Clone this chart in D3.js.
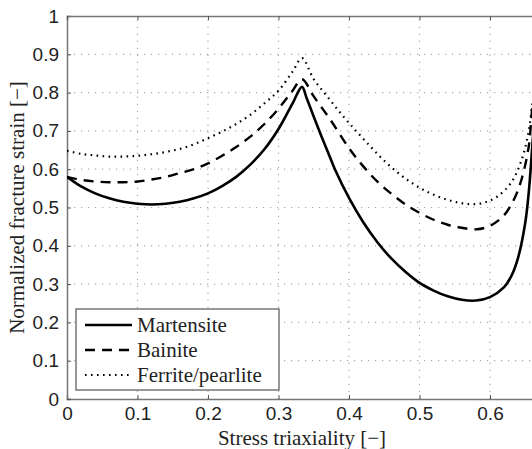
<!DOCTYPE html>
<html>
<head>
<meta charset="utf-8">
<script src="https://cdn.jsdelivr.net/npm/d3@7"></script>
<style>
body { margin: 0; background: #fff; }
svg { display: block; }
</style>
</head>
<body>
<svg id="chart"></svg>
<script>
// data
var martX = [0, 0.02, 0.04, 0.06, 0.08, 0.10, 0.12, 0.14, 0.16, 0.18, 0.20, 0.22, 0.24, 0.26, 0.28, 0.30, 0.32, 0.3333,
	0.34, 0.35, 0.36, 0.37, 0.38, 0.40, 0.42, 0.44, 0.46, 0.48, 0.50, 0.52, 0.54, 0.56, 0.58, 0.60, 0.62, 0.63, 0.64, 0.65, 0.655, 0.66, 0.6667];
var martY = [0.58, 0.555, 0.537, 0.524, 0.515, 0.510, 0.508, 0.510, 0.515, 0.524, 0.537, 0.556, 0.580, 0.612, 0.652, 0.705, 0.772, 0.815,
	0.785, 0.737, 0.69, 0.645, 0.60, 0.525, 0.462, 0.41, 0.367, 0.332, 0.303, 0.283, 0.268, 0.259, 0.257, 0.266, 0.292, 0.32, 0.37, 0.46, 0.54, 0.66, 0.83];

var bainX = [0, 0.02, 0.04, 0.06, 0.08, 0.10, 0.12, 0.14, 0.16, 0.18, 0.20, 0.22, 0.24, 0.26, 0.28, 0.30, 0.32, 0.3333,
	0.35, 0.374, 0.40, 0.42, 0.44, 0.46, 0.48, 0.50, 0.52, 0.54, 0.56, 0.58, 0.60, 0.62, 0.635, 0.645, 0.655, 0.66, 0.6667];
var bainY = [0.58, 0.572, 0.568, 0.566, 0.566, 0.568, 0.573, 0.58, 0.59, 0.60, 0.615, 0.635, 0.658, 0.685, 0.718, 0.758, 0.805, 0.835,
	0.79, 0.728, 0.655, 0.608, 0.568, 0.536, 0.508, 0.486, 0.468, 0.455, 0.447, 0.443, 0.452, 0.480, 0.525, 0.575, 0.66, 0.76, 0.84];

var ferrX = [0, 0.02, 0.04, 0.06, 0.08, 0.10, 0.12, 0.14, 0.16, 0.18, 0.20, 0.22, 0.24, 0.26, 0.28, 0.30, 0.32, 0.3333,
	0.35, 0.37, 0.39, 0.41, 0.43, 0.45, 0.47, 0.49, 0.51, 0.53, 0.55, 0.57, 0.59, 0.61, 0.63, 0.645, 0.655, 0.66, 0.6667];
var ferrY = [0.648, 0.640, 0.636, 0.633, 0.633, 0.635, 0.639, 0.645, 0.653, 0.665, 0.681, 0.698, 0.718, 0.742, 0.772, 0.805, 0.855, 0.89,
	0.835, 0.788, 0.742, 0.700, 0.660, 0.622, 0.590, 0.563, 0.542, 0.526, 0.515, 0.509, 0.512, 0.528, 0.565, 0.625, 0.70, 0.77, 0.85];

var seriesNames = ["Martensite", "Bainite", "Ferrite/pearlite"];
var xTicks = [0, 0.1, 0.2, 0.3, 0.4, 0.5, 0.6];
var yTicks = [0, 0.1, 0.2, 0.3, 0.4, 0.5, 0.6, 0.7, 0.8, 0.9, 1];

var width = 532, height = 449;
var margin = { left: 67, top: 16 };
var plotW = 470, plotH = 383;

var svg = d3.select("#chart")
	.attr("width", width)
	.attr("height", height);

var xScale = d3.scaleLinear()
	.domain([0, 2 / 3])
	.range([margin.left, margin.left + plotW]);
var yScale = d3.scaleLinear()
	.domain([0, 1])
	.range([margin.top + plotH, margin.top]);

// grid
svg.append("g")
	.selectAll("line")
	.data(yTicks.slice(1, -1))
	.enter()
	.append("line")
	.attr("x1", xScale(0))
	.attr("x2", xScale(2 / 3))
	.attr("y1", function (d) { return yScale(d); })
	.attr("y2", function (d) { return yScale(d); })
	.attr("stroke", "#aaa")
	.attr("stroke-width", 1.2)
	.attr("stroke-dasharray", "1.2,5.8");
svg.append("g")
	.selectAll("line")
	.data(xTicks.slice(1))
	.enter()
	.append("line")
	.attr("x1", function (d) { return xScale(d); })
	.attr("x2", function (d) { return xScale(d); })
	.attr("y1", yScale(0))
	.attr("y2", yScale(1))
	.attr("stroke", "#aaa")
	.attr("stroke-width", 1.2)
	.attr("stroke-dasharray", "1.2,5.8");

// axes, ticks point inward
var xAxis = d3.axisBottom(xScale)
	.tickValues(xTicks)
	.tickFormat(d3.format(""))
	.tickSize(-4)
	.tickPadding(8);
var yAxis = d3.axisLeft(yScale)
	.tickValues(yTicks)
	.tickFormat(d3.format(""))
	.tickSize(-4)
	.tickPadding(8);
var xTop = d3.axisTop(xScale)
	.tickValues(xTicks)
	.tickFormat("")
	.tickSize(-4);

svg.append("g")
	.attr("class", "axis")
	.attr("transform", "translate(0," + yScale(0) + ")")
	.call(xAxis);
svg.append("g")
	.attr("class", "axis")
	.attr("transform", "translate(" + xScale(0) + ",0)")
	.call(yAxis);
svg.append("g")
	.attr("class", "axis")
	.attr("transform", "translate(0," + yScale(1) + ")")
	.call(xTop);

svg.selectAll(".axis path").attr("stroke", "#777").attr("stroke-width", 1.5);
svg.selectAll(".axis line").attr("stroke", "#555");
svg.selectAll(".axis text")
	.attr("font-family", "Liberation Sans, Arial, sans-serif")
	.attr("font-size", 19)
	.attr("fill", "#222");

// curves
var line = d3.line()
	.x(function (d) { return xScale(d[0]); })
	.y(function (d) { return yScale(d[1]); })
	.curve(d3.curveCatmullRom.alpha(0.5));

var styles = [
	{ dash: null, w: 2.6 },
	{ dash: "10,7", w: 2.4 },
	{ dash: "1.6,4.4", w: 2.2 }
];
var allData = [d3.zip(martX, martY), d3.zip(bainX, bainY), d3.zip(ferrX, ferrY)];

svg.append("defs").append("clipPath")
	.attr("id", "plotClip")
	.append("rect")
	.attr("x", xScale(0))
	.attr("y", yScale(1))
	.attr("width", plotW)
	.attr("height", plotH);

svg.append("g")
	.attr("clip-path", "url(#plotClip)")
	.selectAll("path")
	.data(allData)
	.enter()
	.append("path")
	.attr("d", line)
	.attr("fill", "none")
	.attr("stroke", "#000")
	.attr("stroke-width", function (d, i) { return styles[i].w; })
	.attr("stroke-dasharray", function (d, i) { return styles[i].dash; });

// legend
var legend = svg.append("g");
legend.append("rect")
	.attr("x", 76)
	.attr("y", 309)
	.attr("width", 203)
	.attr("height", 81)
	.attr("fill", "#fff")
	.attr("stroke", "#777")
	.attr("stroke-width", 1.5);
var items = legend.selectAll("g.item")
	.data(seriesNames)
	.enter()
	.append("g")
	.attr("class", "item")
	.attr("transform", function (d, i) { return "translate(0," + (325 + i * 25) + ")"; });
items.append("line")
	.attr("x1", 85)
	.attr("x2", 132)
	.attr("stroke", "#000")
	.attr("stroke-width", function (d, i) { return styles[i].w; })
	.attr("stroke-dasharray", function (d, i) { return styles[i].dash; });
items.append("text")
	.attr("x", 137)
	.attr("y", 7)
	.attr("font-family", "Liberation Serif, Times New Roman, serif")
	.attr("font-size", 21)
	.attr("fill", "#222")
	.text(function (d) { return d; });

// axis titles
svg.append("text")
	.attr("x", (xScale(0) + xScale(2 / 3)) / 2)
	.attr("y", 445)
	.attr("text-anchor", "middle")
	.attr("font-family", "Liberation Serif, Times New Roman, serif")
	.attr("font-size", 21)
	.attr("fill", "#222")
	.text("Stress triaxiality [\u2212]");
svg.append("text")
	.attr("transform", "translate(24," + (yScale(0.5)) + ") rotate(-90)")
	.attr("text-anchor", "middle")
	.attr("font-family", "Liberation Serif, Times New Roman, serif")
	.attr("font-size", 21)
	.attr("fill", "#222")
	.text("Normalized fracture strain [\u2212]");
</script>
</body>
</html>
